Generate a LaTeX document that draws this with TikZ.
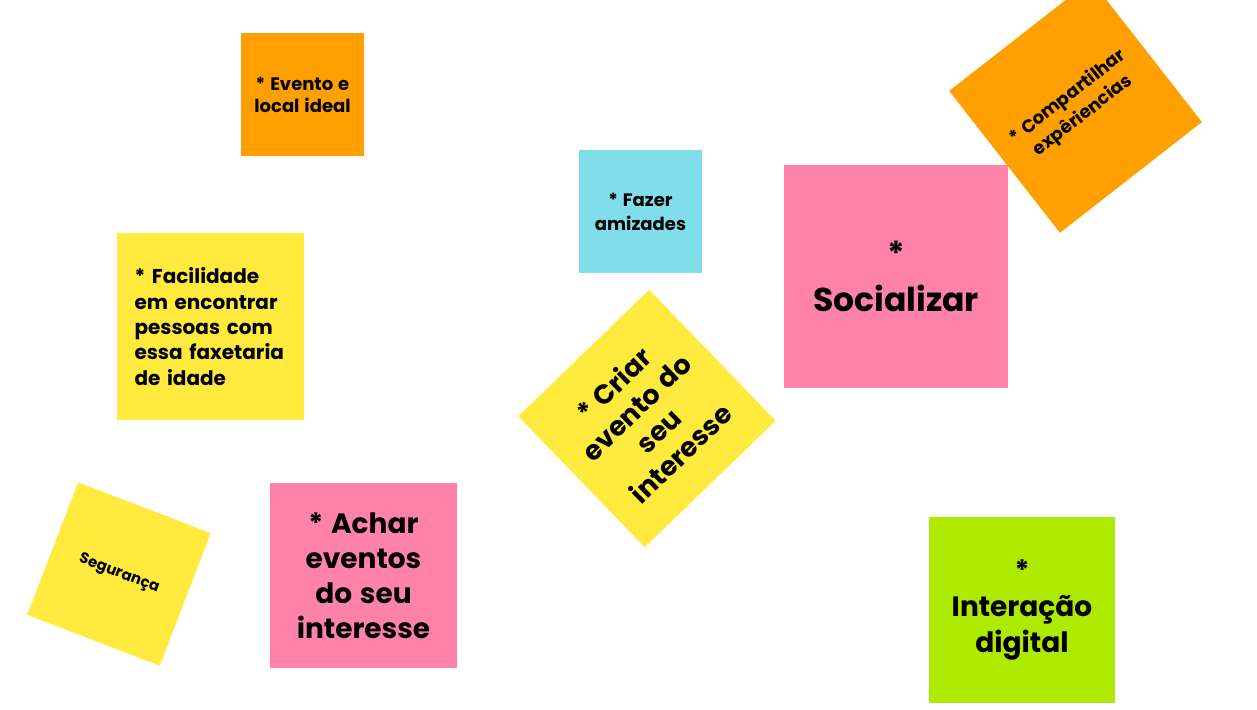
\documentclass[tikz,border=0pt]{standalone}
\usepackage{fontspec}
\setmainfont{Poppins}[WordSpace=1.3]
\definecolor{nOrange}{HTML}{FFA000}
\definecolor{nYellow}{HTML}{FFEA3D}
\definecolor{nPink}{HTML}{FF82AB}
\definecolor{nCyan}{HTML}{80DEEA}
\definecolor{nGreen}{HTML}{AEEA00}
\tikzset{
  note/.style={rectangle, inner sep=0pt, align=center, font=\bfseries},
  fs/.style n args={2}{font=\bfseries\fontsize{#1}{#2}\selectfont}
}
\begin{document}
\begin{tikzpicture}[x=1pt,y=1pt]
\useasboundingbox (0,0) rectangle (1257,709);
\clip (0,0) rectangle (1257,709);
% Evento e local ideal
\node[note, fill=nOrange, minimum width=123, minimum height=123, fs={18}{22}] (evento) at (302.5,614.5) {* Evento e\\local ideal};
% Facilidade
\node[note, fill=nYellow, minimum width=187, minimum height=187, text width=152, align=left, fs={20}{25.3}] (facil) at (210.5,382.5) {* Facilidade\\em encontrar\\pessoas com\\essa faxetaria\\de idade};
% Fazer amizades
\node[note, fill=nCyan, minimum width=123, minimum height=123, fs={18}{24}] (fazer) at (640.5,497.5) {* Fazer\\amizades};
% Socializar
\node[note, fill=nPink, minimum width=224, minimum height=223, fs={33}{46}] (social) at (896,432.5) {*\\Socializar};
% Compartilhar
\node[note, fill=nOrange, minimum width=180, minimum height=180, rotate=38, fs={18}{24}] (compart) at (1075.5,602.5) {* Compartilhar\\expêriencias};
% Criar evento
\node[note, fill=nYellow, minimum width=182, minimum height=182, rotate=44, fs={27}{32}] (criar) at (647,290.5) {* Criar\\evento do\\seu\\interesse};
% Seguranca
\node[note, fill=nYellow, minimum width=142, minimum height=142, rotate=-21, fs={15}{18}] (seg) at (119,135) {Segurança};
% Achar eventos
\node[note, fill=nPink, minimum width=187, minimum height=185, fs={28}{35}] (achar) at (363.5,133.5) {* Achar\\eventos\\do seu\\interesse};
% Interacao digital
\node[note, fill=nGreen, minimum width=186, minimum height=186, fs={28}{36}] (inter) at (1022,99) {*\\Interação\\digital};
\end{tikzpicture}
\end{document}
